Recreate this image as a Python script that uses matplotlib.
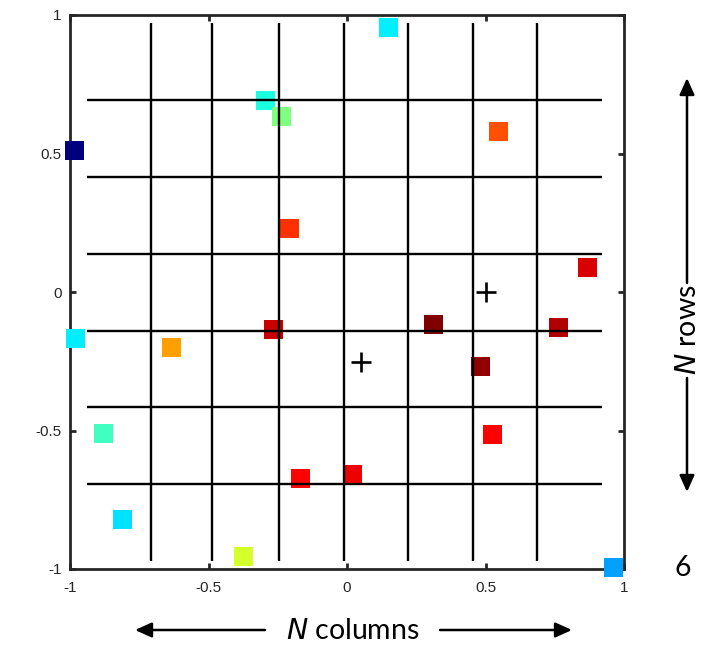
import matplotlib
matplotlib.use("Agg")
import matplotlib.pyplot as plt

# Grid of column / row divider positions (data units)
col_lines = [-0.708, -0.488, -0.244, -0.011, 0.221, 0.454, 0.686]
row_lines = [0.693, 0.415, 0.137, -0.140, -0.416, -0.692]
col_span = (-0.97, 0.97)
row_span = (-0.94, 0.92)

# Sample points and their colours
pts_x = [-0.985, -0.294, -0.237, -0.206, 0.150, 0.548, 0.868,
         -0.979, -0.634, -0.266, -0.880, -0.167, -0.810, -0.372,
         0.313, 0.763, 0.483, 0.524, 0.021, 0.962]
pts_y = [0.510, 0.692, 0.634, 0.229, 0.956, 0.580, 0.088,
         -0.169, -0.199, -0.135, -0.510, -0.674, -0.820, -0.955,
         -0.117, -0.129, -0.269, -0.516, -0.659, -0.996]
pts_c = ["#00007F", "#1AFFE0", "#80FF80", "#FF3000", "#00F0FF", "#FF5000", "#D80000",
         "#00EEFF", "#FFA000", "#C80000", "#40FFC0", "#FF0000", "#00E0FF", "#D4FF2A",
         "#800000", "#B00000", "#900000", "#FF0000", "#EE0000", "#00A0FF"]

# Centre markers
cross_x = [0.5, 0.05]
cross_y = [0.0, -0.252]

ticks = [-1, -0.5, 0, 0.5, 1]
tick_labels = ["-1", "-0.5", "0", "0.5", "1"]

fig = plt.figure(figsize=(7.2, 6.45), dpi=100)
ax = fig.add_axes([70 / 720, 1 - 569 / 645, 554 / 720, 554 / 645])
ax.set_xlim(-1, 1)
ax.set_ylim(-1, 1)

for s in ax.spines.values():
    s.set_linewidth(2.0)
    s.set_color("#262626")
    s.set_zorder(1)

ax.set_xticks(ticks)
ax.set_xticklabels(tick_labels)
ax.set_yticks(ticks)
ax.set_yticklabels(tick_labels)
ax.tick_params(direction="in", length=4.5, width=2.0, color="#262626",
               top=True, right=True, labelsize=11, labelcolor="#262626")
ax.tick_params(axis="x", pad=9)
ax.tick_params(axis="y", pad=6)
for lab in ax.get_xticklabels() + ax.get_yticklabels():
    lab.set_fontfamily("Liberation Sans")

ax.scatter(pts_x, pts_y, s=13.7 ** 2, c=pts_c, marker="s", linewidths=0,
           zorder=3, clip_on=False)

for x in col_lines:
    ax.plot([x, x], col_span, color="black", lw=1.7, zorder=4,
            solid_capstyle="butt")
for y in row_lines:
    ax.plot(row_span, [y, y], color="black", lw=1.7, zorder=4,
            solid_capstyle="butt")

ax.plot(cross_x, cross_y, "+", color="black", ms=15, mew=1.9, zorder=5,
        linestyle="none")

# Axis annotations drawn in figure pixel coordinates
fam = ["Lato", "DejaVu Sans"]
arrow_kw = dict(arrowstyle="-|>,head_length=1.0,head_width=0.45", color="black",
                lw=1.8, shrinkA=0, shrinkB=0)


def fx(px):
    return px / 720


def fy(py):
    return 1 - py / 645


def arrow(x0, y0, x1, y1):
    ax.annotate("", xy=(fx(x1), fy(y1)), xytext=(fx(x0), fy(y0)),
                xycoords="figure fraction", textcoords="figure fraction",
                arrowprops=arrow_kw, annotation_clip=False)


fig.text(fx(353), fy(631), r"$\it{N}$ columns", ha="center", va="center",
         fontsize=20.5, family=fam)
arrow(265, 630, 135, 630)
arrow(440, 630, 572, 630)

fig.text(fx(688), fy(330), r"$\it{N}$ rows", ha="center", va="center",
         fontsize=20.5, family=fam, rotation=90)
arrow(687, 283, 687, 78)
arrow(687, 378, 687, 492)

fig.text(fx(683), fy(568), "6", ha="center", va="center", fontsize=20.5,
         family=fam)

fig.savefig("out.png", dpi=100)
